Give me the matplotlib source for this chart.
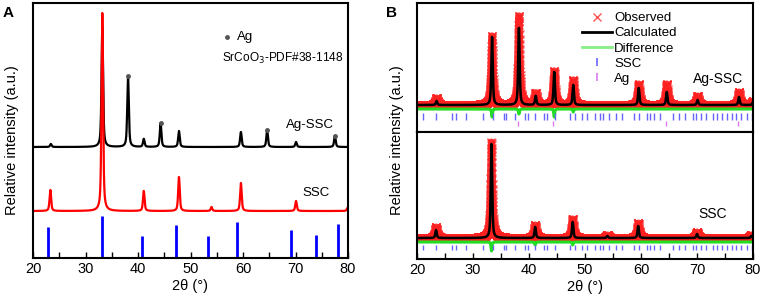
import numpy as np
import matplotlib
matplotlib.use("Agg")
import matplotlib.pyplot as plt
from matplotlib.lines import Line2D

plt.rcParams['font.family'] = ['Liberation Sans', 'DejaVu Sans']

# ---------------- Panel A data ----------------
ag_ssc_peaks = [23.4, 33.2, 38.1, 41.1, 44.3, 47.8, 59.6, 64.6, 70.1, 77.5]
ag_ssc_heights = [3, 120, 71, 8, 24, 16, 15, 17, 5, 11]
ag_ssc_offset = 111

ssc_peaks = [23.3, 33.2, 41.1, 47.8, 54.0, 59.6, 70.1, 79.9]
ssc_heights = [21, 198, 20, 34, 4, 28, 10, 3]
ssc_offset = 47

ag_marked = [38.1, 44.3, 64.6, 77.5]

pdf_positions = [22.9, 33.1, 40.8, 47.2, 53.3, 58.9, 69.1, 73.9, 78.0]
pdf_heights = [31, 42, 22, 33, 22, 36, 28, 23, 34]

# ---------------- Panel B data ----------------
b_top_peaks = [23.5, 33.4, 38.2, 41.2, 44.5, 47.9, 59.6, 64.6, 70.1, 77.5, 80.0]
b_top_calc = [4, 68, 77, 9, 33, 20, 17, 13, 5, 8, 3]
b_top_obs = [7, 69, 89, 12, 34, 25, 21, 21, 9, 13, 4]
b_top_base = 27
b_top_diff_base = 23
b_top_diff_pos = [33.4, 38.2, 44.5, 47.9]
b_top_diff_amp = [-8, -5, -8, -3]

b_bot_peaks = [23.4, 33.3, 41.1, 47.8, 54.0, 59.5, 70.0, 79.7]
b_bot_calc = [8, 94, 11, 16, 2, 12, 4, 2]
b_bot_obs = [11, 96, 13, 19, 3, 15, 6, 3]
b_bot_base = 21
b_bot_diff_base = 17
b_bot_diff_pos = [33.3, 41.1, 47.8]
b_bot_diff_amp = [-9, -3, -3]

ssc_ticks = [21.0, 23.4, 26.2, 27.0, 28.75, 31.7, 33.5, 35.5, 35.9, 37.5, 39.3,
             39.9, 41.1, 42.7, 43.2, 44.6, 47.3, 48.3, 49.4, 50.4, 51.8, 52.6, 53.2,
             54.3, 55.5, 56.6, 58.75, 59.7, 61.0, 61.6, 62.3, 63.4, 65.7,
             66.7, 67.9, 69.2, 69.9, 70.7, 71.6, 72.8, 73.6, 74.4, 75.3, 76.2,
             77.0, 77.8, 78.9, 79.8]
ag_ticks = [38.1, 44.3, 64.5, 77.4]

x = np.linspace(20, 80, 3001)


def profile(pos, hts, width, eta=0.6):
    y = np.zeros_like(x)
    for p, h in zip(pos, hts):
        d = (x - p) / (width / 2)
        lor = 1.0 / (1 + d ** 2)
        gau = np.exp(-np.log(2) * d ** 2)
        y += h * (eta * lor + (1 - eta) * gau)
    return y


fig = plt.figure(figsize=(7.65, 3.01), dpi=100)

# ---------------- Panel A ----------------
axA = fig.add_axes([33 / 765, 43 / 301, 315 / 765, 255 / 301])
axA.plot(x, ag_ssc_offset + profile(ag_ssc_peaks, ag_ssc_heights, 0.35),
         color='black', lw=1.6)
axA.plot(x, ssc_offset + profile(ssc_peaks, ssc_heights, 0.35),
         color='#ff0000', lw=1.6)
ag_y = ag_ssc_offset + np.interp(ag_marked, x, profile(ag_ssc_peaks, ag_ssc_heights, 0.35))
axA.plot(ag_marked, ag_y, 'o', color='#555555', ms=2.5)
axA.vlines(pdf_positions, 0, pdf_heights, color='#0000ff', lw=2)
axA.set_xlim(20, 80)
axA.set_ylim(0, 255)
axA.set_yticks([])
axA.set_xticks(np.arange(20, 81, 10))
axA.set_xticks(np.arange(25, 80, 10), minor=True)
axA.tick_params(axis='x', which='both', direction='in', length=4, width=1,
                labelsize=10.5, pad=3)
for s in axA.spines.values():
    s.set_linewidth(1.5)
axA.plot([(227 - 33) / 315 * 60 + 20], [258 - 37], 'o', color='#555555', ms=2.5)
axA.text(237 / 765, 1 - 37 / 301, 'Ag', transform=fig.transFigure,
         fontsize=9.5, va='center', ha='left')
axA.text(222 / 765, 1 - 58 / 301, 'SrCoO$_3$-PDF#38-1148', transform=fig.transFigure,
         fontsize=8.6, va='center', ha='left')
axA.text(286 / 765, 1 - 125 / 301, 'Ag-SSC', transform=fig.transFigure,
         fontsize=9.5, va='center', ha='left')
axA.text(302 / 765, 1 - 193 / 301, 'SSC', transform=fig.transFigure,
         fontsize=9.5, va='center', ha='left')

# ---------------- Panel B ----------------
bl, bw = 417 / 765, 336 / 765
axBt = fig.add_axes([bl, 169 / 301, bw, 129 / 301])
axBb = fig.add_axes([bl, 42 / 301, bw, 127 / 301])

obs_col = '#ff2020'
for ax, pk, calc, obs, base, dbase, dpos, damp, top in [
        (axBt, b_top_peaks, b_top_calc, b_top_obs, b_top_base, b_top_diff_base,
         b_top_diff_pos, b_top_diff_amp, 129),
        (axBb, b_bot_peaks, b_bot_calc, b_bot_obs, b_bot_base, b_bot_diff_base,
         b_bot_diff_pos, b_bot_diff_amp, 127)]:
    yobs = base + profile(pk, obs, 0.45)
    ax.plot(x, yobs, 'x', color=obs_col, ms=6, mew=1.0, alpha=0.7)
    ax.plot(x, yobs, '-', color=obs_col, lw=5, alpha=0.9)
    ax.plot(x, dbase + profile(dpos, damp, 0.2), color='#22dd22', lw=2.2)
    ax.plot(x, base + profile(pk, calc, 0.3), color='black', lw=1.8)
    ax.set_xlim(20, 80)
    ax.set_ylim(0, top)
    ax.set_yticks([])
    for s in ax.spines.values():
        s.set_linewidth(1.5)

axBt.vlines(ssc_ticks, 12, 19, color='#6666ff', lw=1.0)
axBt.vlines(ag_ticks, 6, 11, color='#dd77ee', lw=1.0)
axBb.vlines(ssc_ticks, 9, 14, color='#6666ff', lw=1.0)

axBt.set_xticks([])
axBb.set_xticks(np.arange(20, 81, 10))
axBb.set_xticks(np.arange(25, 80, 10), minor=True)
axBb.tick_params(axis='x', which='both', direction='in', length=4, width=1,
                 labelsize=10.5, pad=3)

handles = [
    Line2D([], [], ls='none', marker='x', color='#ff5555', ms=6, mew=1.0),
    Line2D([], [], color='black', lw=2),
    Line2D([], [], color='#88ee88', lw=2),
    Line2D([], [], ls='none', marker='|', color='#6666ff', ms=6, mew=1.2),
    Line2D([], [], ls='none', marker='|', color='#dd77ee', ms=6, mew=1.2),
]
labels = ['Observed', 'Calculated', 'Difference', 'SSC', 'Ag']
axBt.legend(handles, labels, loc='upper left', frameon=False, fontsize=9.5,
            bbox_to_anchor=(582 / 765, 1 - 12 / 301), bbox_transform=fig.transFigure,
            handlelength=2.3, handletextpad=0.15, labelspacing=0.22,
            borderpad=0, borderaxespad=0)

axBt.text(693 / 765, 1 - 79 / 301, 'Ag-SSC', transform=fig.transFigure,
          fontsize=10, va='center', ha='left')
axBb.text(698 / 765, 1 - 214 / 301, 'SSC', transform=fig.transFigure,
          fontsize=10, va='center', ha='left')

# axis labels and panel letters
fig.text(12 / 765, 1 - 140 / 301, 'Relative intensity (a.u.)', rotation=90,
         fontsize=10.5, ha='center', va='center')
fig.text(397 / 765, 1 - 140 / 301, 'Relative intensity (a.u.)', rotation=90,
         fontsize=10.5, ha='center', va='center')
fig.text(190 / 765, 1 - 286 / 301, '2θ (°)', fontsize=10.5, ha='center', va='center')
fig.text(585 / 765, 1 - 287 / 301, '2θ (°)', fontsize=10.5, ha='center', va='center')
fig.text(8 / 765, 1 - 13 / 301, 'A', fontsize=11, fontweight='bold', ha='center', va='center')
fig.text(392 / 765, 1 - 13 / 301, 'B', fontsize=11, fontweight='bold', ha='center', va='center')

fig.savefig('out.png', dpi=100)
